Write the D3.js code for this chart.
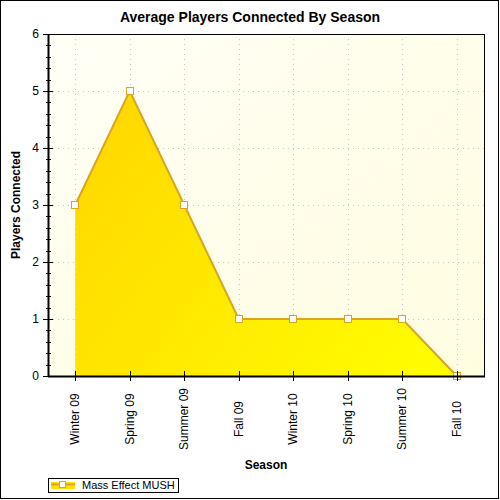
<!DOCTYPE html>
<html>
<head>
<meta charset="utf-8">
<script src="https://cdn.jsdelivr.net/npm/d3@7"></script>
<style>
  body { margin: 0; background: #fff; }
  text { font-family: Arial, "Liberation Sans", sans-serif; }
</style>
</head>
<body>
<svg id="chart"></svg>
<script>
const seasons = ["Winter 09", "Spring 09", "Summer 09", "Fall 09", "Winter 10", "Spring 10", "Summer 10", "Fall 10"];
const players = [3, 5, 3, 1, 1, 1, 1, 0];
const yTicks = [0, 1, 2, 3, 4, 5, 6];
const seriesName = "Mass Effect MUSH";

const w = 500, h = 500;
const margin = { top: 34, right: 16, bottom: 124, left: 48 };

const svg = d3.select("#chart").attr("width", w).attr("height", h);

const defs = svg.append("defs");
const bg = defs.append("linearGradient").attr("id", "bgGrad")
    .attr("x1", "0%").attr("y1", "0%").attr("x2", "100%").attr("y2", "100%");
bg.append("stop").attr("offset", "0%").attr("stop-color", "#fffff6");
bg.append("stop").attr("offset", "100%").attr("stop-color", "#fffde0");

const areaGrad = defs.append("linearGradient").attr("id", "areaGrad")
    .attr("gradientUnits", "userSpaceOnUse")
    .attr("x1", 74).attr("y1", 90).attr("x2", 456).attr("y2", 376);
areaGrad.append("stop").attr("offset", "0%").attr("stop-color", "#ffd500");
areaGrad.append("stop").attr("offset", "100%").attr("stop-color", "#ffff00");

// outer frame
svg.append("rect")
    .attr("x", 0.5).attr("y", 0.5).attr("width", 498).attr("height", 498)
    .attr("fill", "#fff").attr("stroke", "#000").attr("stroke-width", 1);

const xScale = d3.scalePoint()
    .domain(seasons)
    .range([margin.left, w - margin.right])
    .padding(0.5);

const yScale = d3.scaleLinear()
    .domain([0, 6])
    .range([h - margin.bottom, margin.top]);

const plotW = w - margin.right - margin.left;
const plotH = h - margin.bottom - margin.top;

svg.append("rect")
    .attr("x", margin.left).attr("y", margin.top)
    .attr("width", plotW).attr("height", plotH)
    .attr("fill", "url(#bgGrad)");

// grid
const grid = svg.append("g")
    .attr("stroke", "#c8c8c8").attr("stroke-dasharray", "1,4").attr("stroke-width", 1);
grid.selectAll("line.v").data(seasons).join("line")
    .attr("x1", d => Math.round(xScale(d)) + 0.5).attr("x2", d => Math.round(xScale(d)) + 0.5)
    .attr("y1", margin.top).attr("y2", h - margin.bottom);
grid.selectAll("line.h").data(yTicks.slice(1, -1)).join("line")
    .attr("class", "h")
    .attr("x1", margin.left).attr("x2", w - margin.right)
    .attr("y1", d => Math.round(yScale(d)) + 0.5).attr("y2", d => Math.round(yScale(d)) + 0.5);

const data = seasons.map((s, i) => ({ season: s, value: players[i] }));

const area = d3.area()
    .x(d => xScale(d.season))
    .y0(yScale(0))
    .y1(d => yScale(d.value));

const line = d3.line()
    .x(d => xScale(d.season))
    .y(d => yScale(d.value));

svg.append("path").datum(data)
    .attr("d", area)
    .attr("fill", "url(#areaGrad)");

svg.append("path").datum(data)
    .attr("d", line)
    .attr("fill", "none")
    .attr("stroke", "#daa520")
    .attr("stroke-width", 2);

svg.append("g").selectAll("rect").data(data).join("rect")
    .attr("x", d => Math.round(xScale(d.season)) - 3.5)
    .attr("y", d => Math.round(yScale(d.value)) - 3.5)
    .attr("width", 7).attr("height", 7)
    .attr("fill", "#fff").attr("stroke", "#daa520").attr("stroke-width", 1);

// plot border (right + top, axes do left/bottom)
svg.append("rect")
    .attr("x", margin.left + 0.5).attr("y", margin.top + 0.5)
    .attr("width", plotW).attr("height", plotH)
    .attr("fill", "none").attr("stroke", "#000").attr("stroke-width", 1);

// y axis
const yAxisG = svg.append("g");
const minor = d3.range(0, 6.01, 0.2).filter(v => Math.abs(v - Math.round(v)) > 1e-6);
yAxisG.selectAll("line.minor").data(minor).join("line")
    .attr("class", "minor")
    .attr("x1", margin.left - 2).attr("x2", margin.left + 3)
    .attr("y1", d => Math.round(yScale(d)) + 0.5).attr("y2", d => Math.round(yScale(d)) + 0.5)
    .attr("stroke", "#000");
yAxisG.selectAll("line.major").data(yTicks).join("line")
    .attr("class", "major")
    .attr("x1", margin.left - 5).attr("x2", margin.left + 5)
    .attr("y1", d => Math.round(yScale(d)) + 0.5).attr("y2", d => Math.round(yScale(d)) + 0.5)
    .attr("stroke", "#000");
yAxisG.selectAll("text").data(yTicks).join("text")
    .attr("x", margin.left - 9)
    .attr("y", d => yScale(d) + 4)
    .attr("text-anchor", "end")
    .attr("font-size", 12)
    .attr("fill", "#000")
    .text(d => d);
svg.append("line")
    .attr("x1", margin.left + 0.5).attr("x2", margin.left + 0.5)
    .attr("y1", margin.top).attr("y2", h - margin.bottom + 1)
    .attr("stroke", "#000").attr("stroke-width", 2);

// x axis
const xAxisG = svg.append("g");
svg.append("line")
    .attr("x1", margin.left).attr("x2", w - margin.right + 1)
    .attr("y1", h - margin.bottom + 0.5).attr("y2", h - margin.bottom + 0.5)
    .attr("stroke", "#000").attr("stroke-width", 2);
xAxisG.selectAll("line").data(seasons).join("line")
    .attr("x1", d => Math.round(xScale(d)) + 0.5).attr("x2", d => Math.round(xScale(d)) + 0.5)
    .attr("y1", h - margin.bottom - 5).attr("y2", h - margin.bottom + 5)
    .attr("stroke", "#000");
xAxisG.selectAll("text").data(seasons).join("text")
    .attr("transform", d => `translate(${xScale(d) + 4},419) rotate(-90)`)
    .attr("text-anchor", "middle")
    .attr("font-size", 12)
    .attr("fill", "#000")
    .text(d => d);

// titles
svg.append("text")
    .attr("x", 250).attr("y", 22)
    .attr("text-anchor", "middle")
    .attr("font-size", 14).attr("font-weight", "bold")
    .text("Average Players Connected By Season");

svg.append("text")
    .attr("transform", `translate(20,${(margin.top + h - margin.bottom) / 2}) rotate(-90)`)
    .attr("text-anchor", "middle")
    .attr("font-size", 12).attr("font-weight", "bold")
    .text("Players Connected");

svg.append("text")
    .attr("x", 266).attr("y", 469)
    .attr("text-anchor", "middle")
    .attr("font-size", 12).attr("font-weight", "bold")
    .text("Season");

// legend
const legend = svg.append("g");
legend.append("rect")
    .attr("x", 48.5).attr("y", 478.5).attr("width", 130).attr("height", 14)
    .attr("fill", "#fff").attr("stroke", "#000");
legend.append("rect")
    .attr("x", 51).attr("y", 482).attr("width", 24).attr("height", 7)
    .attr("fill", "#ffe000");
legend.append("line")
    .attr("x1", 51).attr("x2", 75).attr("y1", 484.5).attr("y2", 484.5)
    .attr("stroke", "#daa520").attr("stroke-width", 2);
legend.append("rect")
    .attr("x", 59.5).attr("y", 481.5).attr("width", 6).attr("height", 6)
    .attr("fill", "#fff").attr("stroke", "#daa520");
legend.append("text")
    .attr("x", 82).attr("y", 489)
    .attr("font-size", 11)
    .attr("fill", "#000")
    .text(seriesName);
</script>
</body>
</html>
